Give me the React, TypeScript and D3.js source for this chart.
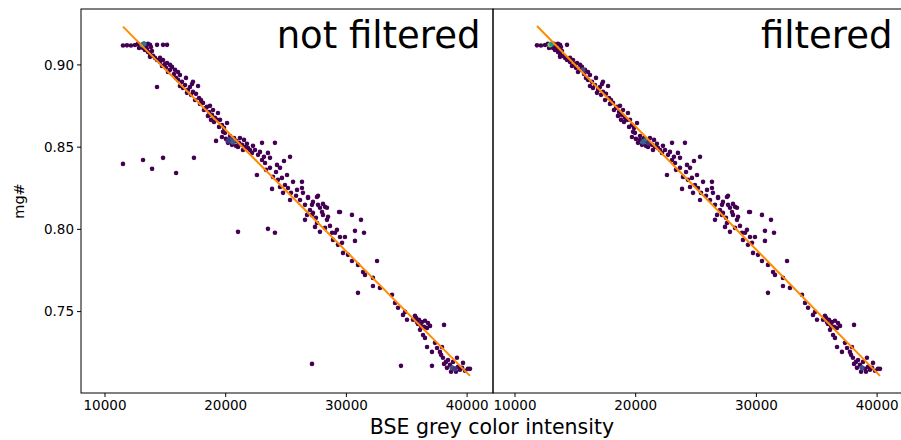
import React, { useEffect } from "react";
import * as d3 from "d3";

// points that survive the filter: [BSE intensity, mg#]
const filteredPoints: [number, number][] = [
  [11820, 0.9119], [12150, 0.9118], [12490, 0.9121], [12730, 0.9128], [12900, 0.9116],
  [13070, 0.9122], [13230, 0.9128], [13400, 0.9116], [13560, 0.9128], [13730, 0.9122],
  [12820, 0.9103], [13150, 0.9103], [13480, 0.9097], [13810, 0.9109], [14310, 0.9122],
  [13310, 0.9091], [13560, 0.9079], [13730, 0.9067], [13890, 0.9085], [13980, 0.9055],
  [14140, 0.9043], [13730, 0.9049], [14310, 0.903], [14560, 0.9018], [14970, 0.9006],
  [14720, 0.8994], [15050, 0.8982], [15390, 0.897], [15550, 0.8988], [15800, 0.897],
  [16050, 0.8957], [15220, 0.8957], [15720, 0.8945], [16210, 0.8939], [16050, 0.8909],
  [16380, 0.8897], [16630, 0.8878], [16210, 0.8872], [16880, 0.8848], [17040, 0.8866],
  [17290, 0.8836], [17540, 0.8824], [16710, 0.8921], [17210, 0.8884], [17790, 0.8799],
  [17950, 0.8787], [17290, 0.8897], [17710, 0.8872], [18450, 0.8745], [18950, 0.8726],
  [19280, 0.8666], [20110, 0.8647], [18120, 0.8769], [18370, 0.8739], [18620, 0.8714],
  [18860, 0.8696], [19110, 0.8678], [18700, 0.8751], [19360, 0.8708], [19530, 0.8666],
  [19030, 0.8653], [19690, 0.8635], [19860, 0.8617],
  [14560, 0.9043], [14810, 0.903], [15140, 0.9012], [15390, 0.9], [15880, 0.8921],
  [16460, 0.886], [16790, 0.883], [17130, 0.8818], [17460, 0.8787], [17870, 0.8763],
  [18200, 0.8726], [18530, 0.869], [18780, 0.8666], [19450, 0.8623], [19780, 0.8593],
  [19690, 0.8562], [20020, 0.855], [20360, 0.8544], [20600, 0.8532], [20850, 0.8538],
  [21100, 0.8526], [21350, 0.8514], [20190, 0.8526], [20520, 0.8514], [20850, 0.8508],
  [21600, 0.8501], [21850, 0.8495], [19940, 0.8587], [20360, 0.8568], [21180, 0.8556],
  [21520, 0.8544], [22010, 0.8483], [22260, 0.8508], [23010, 0.8526], [24080, 0.8526],
  [20690, 0.8556], [21020, 0.8501], [21760, 0.852], [22180, 0.8465], [21430, 0.8483],
  [23500, 0.8465], [23670, 0.8435], [24250, 0.8392], [24830, 0.8416], [25330, 0.8441],
  [24500, 0.8374], [25080, 0.8331], [23920, 0.8319], [23840, 0.8246], [24750, 0.8222],
  [25580, 0.8289], [26320, 0.8289], [25910, 0.824], [24500, 0.8258], [22590, 0.8331],
  [22680, 0.8453], [23010, 0.8422], [23260, 0.8404], [22840, 0.8471], [23340, 0.8362],
  [23670, 0.8374], [22430, 0.8483], [23170, 0.8441], [24170, 0.8349], [24330, 0.8301],
  [24660, 0.8313], [24910, 0.827], [25160, 0.8252], [25410, 0.8222],
  [25330, 0.8179], [26160, 0.8179], [26820, 0.8197], [27560, 0.8197], [27150, 0.8149],
  [27810, 0.8131], [28230, 0.8137], [28060, 0.8088], [27230, 0.81], [26740, 0.8088],
  [27560, 0.8039], [28390, 0.8058], [28640, 0.8021], [29220, 0.7997], [29470, 0.7954],
  [29880, 0.7954], [28810, 0.7979], [27810, 0.7985], [29470, 0.8106],
  [25830, 0.8204], [26570, 0.8149], [26980, 0.8118], [27480, 0.807], [28890, 0.7936],
  [29300, 0.7906], [30130, 0.7845],
  [26320, 0.8252], [26400, 0.8222], [26820, 0.8191], [27230, 0.8167], [27650, 0.8204],
  [27650, 0.8149], [28060, 0.8155], [28390, 0.8131], [27980, 0.8106], [28480, 0.8076],
  [27400, 0.8015], [28230, 0.8009], [29060, 0.7979], [29640, 0.7918], [29720, 0.7857],
  [30460, 0.7808], [30960, 0.7784], [31380, 0.7741], [31540, 0.7723], [32200, 0.7705],
  [32200, 0.7656], [32780, 0.7644], [33780, 0.7602], [34030, 0.7553], [34280, 0.7523],
  [34860, 0.7498], [34690, 0.748], [35020, 0.745], [27150, 0.8088], [26570, 0.8058],
  [29390, 0.8106], [30460, 0.8088], [31210, 0.8058], [31460, 0.7979], [30710, 0.7991],
  [30710, 0.793], [32540, 0.7808], [30960, 0.7614], [38090, 0.7419],
  [35520, 0.745], [35770, 0.7462], [36010, 0.745], [36260, 0.7437], [36510, 0.7444],
  [36760, 0.7431], [35930, 0.7425], [36180, 0.7413], [36430, 0.7407], [36680, 0.7401],
  [36930, 0.7413], [35850, 0.7437], [36100, 0.7389], [35680, 0.7474],
  [36350, 0.7358], [36510, 0.734], [36680, 0.7285], [37340, 0.731], [37510, 0.7279],
  [37750, 0.7255], [37090, 0.7255], [37920, 0.7285],
  [38000, 0.7219], [38250, 0.7194], [38420, 0.7206], [38580, 0.7176], [38750, 0.7158],
  [39000, 0.7152], [39250, 0.7164], [39410, 0.7146], [39580, 0.7158], [39830, 0.714],
  [38330, 0.7158], [38670, 0.7134], [39080, 0.7134], [38090, 0.7182], [38830, 0.7194],
  [39660, 0.7188], [40070, 0.7152], [40240, 0.7152], [37840, 0.7237], [39160, 0.7219],
];

// points removed by the filter (only in the left panel)
const removedPoints: [number, number][] = [
  [11490, 0.9118], [14810, 0.9122], [15140, 0.9122],
  [11490, 0.8398], [13150, 0.8422], [13900, 0.8368], [14810, 0.8435], [15890, 0.8343],
  [17370, 0.8435], [14310, 0.8866], [19200, 0.8538],
  [21020, 0.7985], [23500, 0.8003], [24080, 0.7979],
  [27150, 0.7182], [34520, 0.717], [37090, 0.717],
];

// denser hex cells: [x, y, count]
const denseNotFiltered: [number, number, number][] = [
  [13070, 0.9122, 8], [13230, 0.9128, 6], [20360, 0.8544, 4], [20600, 0.8532, 5],
  [20190, 0.8538, 3], [38750, 0.7158, 4], [39000, 0.7152, 3],
];
const denseFiltered: [number, number, number][] = [
  [12900, 0.9122, 11], [13070, 0.9128, 8], [15630, 0.897, 4], [20770, 0.8538, 7],
  [20600, 0.8532, 5], [21020, 0.8526, 3], [38750, 0.7158, 4],
];
const maxCount = 14;

const fitNotFiltered: [number, number][] = [[11490, 0.9233], [40240, 0.7109]];
const fitFiltered: [number, number][] = [[11820, 0.9237], [40240, 0.7109]];

const xTicks = [10000, 20000, 30000, 40000];
const yTicks = [0.75, 0.8, 0.85, 0.9];
const titles = ["not filtered", "filtered"];

const W = 901;
const H = 440;
const TOP = 9;
const BOTTOM = 393;
const FONT = "DejaVu Sans, sans-serif";

const yScale = d3.scaleLinear().domain([0.7005, 0.934]).range([BOTTOM, TOP]);
const color = d3.scaleSequential(d3.interpolateViridis).domain([1, maxCount]);

const Panel = ({ x0, x1, domain, points, dense, fit, title, showY }) => {
  const x = d3.scaleLinear().domain(domain).range([x0, x1]);
  const line = d3.line<[number, number]>().x((d) => x(d[0])).y((d) => yScale(d[1]));
  return (
    <g>
      <defs>
        <clipPath id={"clip" + x0}>
          <rect x={x0} y={TOP} width={x1 - x0} height={BOTTOM - TOP} />
        </clipPath>
      </defs>
      <g clipPath={`url(#clip${x0})`}>
        {points.map((d, i) => (
          <circle key={i} cx={x(d[0])} cy={yScale(d[1])} r={2.3} fill={color(1)} />
        ))}
        {dense.map((d, i) => (
          <circle key={"d" + i} cx={x(d[0])} cy={yScale(d[1])} r={2.6} fill={color(d[2])} />
        ))}
        <path d={line(fit)} stroke="#ff8c00" strokeWidth={2} fill="none" />
      </g>
      <rect x={x0} y={TOP} width={x1 - x0} height={BOTTOM - TOP} fill="none" stroke="#000" strokeWidth={1} />
      {xTicks.map((t) => (
        <g key={t} transform={`translate(${x(t)},${BOTTOM})`}>
          <line y2={4} stroke="#000" />
          <text y={17} textAnchor="middle" fontSize={13.5} fontFamily={FONT}>{t}</text>
        </g>
      ))}
      {showY &&
        yTicks.map((t) => (
          <g key={t} transform={`translate(${x0},${yScale(t)})`}>
            <line x2={-4} stroke="#000" />
            <text x={-7} dy="0.35em" textAnchor="end" fontSize={13.5} fontFamily={FONT}>
              {d3.format(".2f")(t)}
            </text>
          </g>
        ))}
      <text x={x1 - 12.5} y={48} textAnchor="end" fontSize={37} fontFamily={FONT}>{title}</text>
    </g>
  );
};

export default function App() {
  useEffect(() => {
    document.body.style.margin = "0";
  }, []);
  return (
    <svg width={W} height={H} style={{ display: "block", background: "#fff" }}>
      <Panel x0={81} x1={493} domain={[8012, 42146]} points={[...filteredPoints, ...removedPoints]}
        dense={denseNotFiltered} fit={fitNotFiltered} title={titles[0]} showY={true} />
      <Panel x0={493} x1={905} domain={[8177, 42312]} points={filteredPoints}
        dense={denseFiltered} fit={fitFiltered} title={titles[1]} showY={false} />
      <text x={492} y={434} textAnchor="middle" fontSize={20.5} fontFamily={FONT}>
        BSE grey color intensity
      </text>
      <text transform={`translate(24,${(TOP + BOTTOM) / 2}) rotate(-90)`} textAnchor="middle"
        fontSize={14.5} fontFamily={FONT}>mg#</text>
    </svg>
  );
}
